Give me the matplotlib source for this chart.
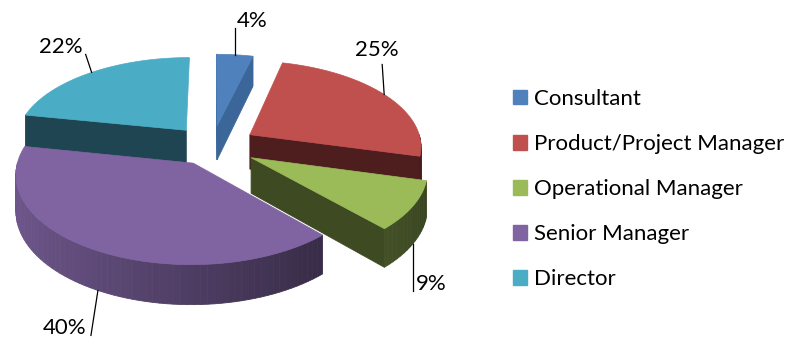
import numpy as np
import matplotlib.pyplot as plt
from matplotlib.patches import Polygon, Patch

plt.rcParams["font.family"] = ["Lato", "DejaVu Sans"]

# survey data: share of respondents by role
roles = ["Consultant", "Product/Project Manager", "Operational Manager",
         "Senior Manager", "Director"]
shares = [4, 25, 9, 40, 22]

top_colors = ["#4F81BD", "#C0504D", "#9BBB59", "#8064A2", "#4BACC6"]
cut_colors = ["#3A6699", "#4E1D1D", "#3E4A21", "#4A3A63", "#1F4552"]
explode = [0.24, 0.26, 0.26, 0.22, 0.24]

# fake-3D projection (pixel space, y grows downwards)
CX, CY = 212, 146
RX, RY = 172, 87
DEPTH = 35
PERSP = 0.12


def project(x, z, h=0.0):
    s = 1 + PERSP * z
    return CX + RX * x * s, CY + (RY * z + DEPTH * h) * s


def shade(color, f):
    rgb = np.array(plt.matplotlib.colors.to_rgb(color))
    return tuple(np.clip(rgb * f, 0, 1))


fig = plt.figure(figsize=(7.9, 3.42), dpi=100)
ax = fig.add_axes([0, 0, 1, 1])
ax.set_xlim(0, 790)
ax.set_ylim(342, 0)
ax.axis("off")

# slice angles: start at 12 o'clock (270 deg here) and run clockwise
bounds = 270 + 360 * np.concatenate([[0], np.cumsum(shares)]) / sum(shares)
slices = []
for i, share in enumerate(shares):
    a, b = bounds[i], bounds[i + 1]
    m = np.radians((a + b) / 2)
    ox, oz = explode[i] * np.cos(m), explode[i] * np.sin(m)
    slices.append((i, a, b, ox, oz))

# paint back-to-front
for i, a, b, ox, oz in sorted(slices, key=lambda s: s[4]):
    def pt(phi, h=0.0, r=1.0):
        p = np.radians(phi)
        return project(ox + r * np.cos(p), oz + r * np.sin(p), h)

    # radial cut faces that turn towards the viewer
    for phi, visible in ((a, -np.cos(np.radians(a)) > 0),
                         (b, np.cos(np.radians(b)) > 0)):
        if visible:
            quad = [pt(phi, 0, 0), pt(phi, 0), pt(phi, 1), pt(phi, 1, 0)]
            ax.add_patch(Polygon(quad, closed=True, facecolor=cut_colors[i],
                                 edgecolor=cut_colors[i], lw=0.6))

    # outer rim, front half only, shaded across
    lo, hi = max(a, 360), min(b, 540)
    if hi > lo:
        edges = np.linspace(lo, hi, max(int(hi - lo) // 2, 2) + 1)
        for p0, p1 in zip(edges[:-1], edges[1:]):
            c = np.cos(np.radians((p0 + p1) / 2))
            col = shade(top_colors[i], 0.36 + 0.5 * (1 - c) / 2)
            quad = [pt(p0), pt(p1), pt(p1, 1), pt(p0, 1)]
            ax.add_patch(Polygon(quad, closed=True, facecolor=col,
                                 edgecolor=col, lw=0.6))

    # top face
    arc = [pt(p) for p in np.linspace(a, b, 80)]
    ax.add_patch(Polygon([pt(a, 0, 0)] + arc, closed=True,
                         facecolor=top_colors[i], edgecolor=top_colors[i],
                         lw=0.5))

# percentage labels with leader lines
leader = [(0, -27), (-2, -30), (0, 47), (-7, 45), (-6, -18)]
text_off = [(17, -7), (-5, -14), (18, -7), (-26, -7), (-25, -7)]
for i, a, b, ox, oz in slices:
    m = np.radians((a + b) / 2)
    front = np.sin(m) > 0.3
    ax_, ay_ = project(ox + np.cos(m), oz + np.sin(m), 1.0 if front else 0.0)
    ex, ey = ax_ + leader[i][0], ay_ + leader[i][1]
    ax.plot([ax_, ex], [ay_, ey], color="black", lw=0.9)
    ax.text(ex + text_off[i][0], ey + text_off[i][1], f"{shares[i]}%",
            fontsize=16, ha="center", va="center", color="black")

handles = [Patch(facecolor=c, edgecolor=c, label=r)
           for c, r in zip(top_colors, roles)]
ax.legend(handles=handles, loc="upper left",
          bbox_to_anchor=(513 / 790, 1 - 89 / 342), frameon=False,
          fontsize=16, handlelength=0.63, handleheight=0.63,
          handletextpad=0.3, labelspacing=1.13, borderpad=0,
          borderaxespad=0)

fig.savefig("out.png", dpi=100)
